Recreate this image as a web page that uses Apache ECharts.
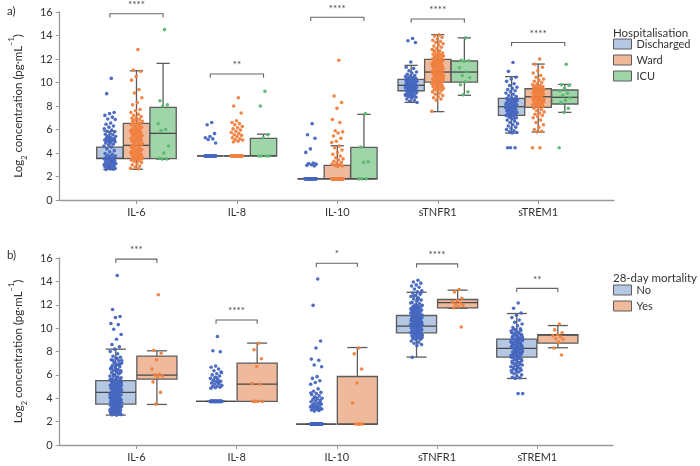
<!DOCTYPE html>
<html><head><meta charset="utf-8">
<script src="https://cdn.jsdelivr.net/npm/echarts@6/dist/echarts.min.js"></script>
<style>html,body{margin:0;padding:0;background:#fff}#c{width:700px;height:466px}</style>
</head><body><div id="c"></div>
<script>
// ---------- categories & labels ----------
const categories = ['IL-6', 'IL-8', 'IL-10', 'sTNFR1', 'sTREM1'];
const groupsA = ['Discharged', 'Ward', 'ICU'];
const groupsB = ['No', 'Yes'];
const titleA = 'Hospitalisation';
const titleB = '28-day mortality';

// ---------- box statistics [min, q1, median, q3, max] per category ----------
const statsA_Discharged = [[2.6, 3.52, 3.55, 4.5, 5.85], [3.75, 3.75, 3.75, 3.75, 3.75], [1.8, 1.8, 1.8, 1.8, 1.8], [8.31, 9.3, 9.76, 10.27, 11.46], [5.7, 7.2, 7.94, 8.65, 10.5]];
const statsA_Ward = [[2.62, 3.52, 4.65, 6.52, 11.0], [3.75, 3.75, 3.75, 3.75, 3.75], [1.8, 1.8, 1.8, 2.95, 4.62], [7.52, 10.04, 10.89, 11.97, 14.07], [5.79, 7.89, 8.79, 9.47, 11.57]];
const statsA_ICU = [[3.47, 3.52, 5.67, 7.89, 11.63], [3.75, 3.75, 3.75, 5.25, 5.6], [1.8, 1.8, 1.8, 4.48, 7.29], [8.91, 10.04, 10.89, 11.83, 13.8], [7.46, 8.17, 8.74, 9.36, 9.84]];
const statsB_No = [[2.56, 3.5, 4.5, 5.5, 8.2], [3.73, 3.73, 3.73, 3.73, 3.73], [1.79, 1.79, 1.79, 1.79, 1.79], [7.52, 9.6, 10.17, 11.08, 13.07], [5.69, 7.52, 8.26, 9.06, 11.25]];
const statsB_Yes = [[3.47, 5.64, 5.98, 7.6, 8.06], [3.73, 3.73, 5.21, 7.0, 8.72], [1.79, 1.79, 1.79, 5.86, 8.34], [11.7, 11.73, 12.19, 12.45, 13.25], [8.32, 8.72, 9.4, 9.45, 10.22]];

// ---------- significance brackets ----------
const sigA_y = [15.85, 10.72, 15.55, 15.4, 13.4];
const sigA_label = ['****', '**', '****', '****', '****'];
const sigB_y = [15.9, 10.7, 15.55, 15.5, 13.4];
const sigB_label = ['***', '****', '*', '****', '**'];

// ---------- individual observations (log2 pg/mL) ----------
// Panel a) Discharged
const a_IL6_Discharged = [10.35, 9.05, 7.45, 7.35, 7.2, 7.05, 6.9, 6.85, 6.55, 6.45, 6.3, 6.2, 6.05, 5.95, 5.85, 5.8, 5.7, 5.6, 5.55, 5.45, 5.4, 5.3, 5.25, 5.2, 5.15, 5.1, 5.05, 5.0, 4.95, 4.9, 4.85, 4.75, 4.7, 4.6, 4.5, 4.35, 4.2, 4.1, 3.95, 3.9, 3.8, 3.75, 3.7, 3.65, 3.6, 3.55, 3.5, 3.45, 3.4, 3.35, 3.3, 3.25, 3.2, 3.15, 3.1, 3.05, 3.0, 2.95, 2.9, 2.85, 2.8, 2.75, 2.7, 2.65, 2.6, 2.62, 2.78, 3.02, 3.28, 5.35, 5.12, 4.95];
const a_IL8_Discharged = [6.6, 6.4, 5.65, 5.4, 5.3, 5.2, 5.15, 4.85, 3.75, 3.75, 3.75, 3.75, 3.75, 3.75, 3.75, 3.75, 3.75, 3.75, 3.75, 3.75, 3.75, 3.75, 3.75, 3.75, 3.75, 3.75, 3.75, 3.75, 3.75, 3.75];
const a_IL10_Discharged = [6.5, 5.55, 5.25, 4.35, 4.05, 3.15, 3.1, 3.05, 3.0, 2.95, 2.9, 1.8, 1.8, 1.8, 1.8, 1.8, 1.8, 1.8, 1.8, 1.8, 1.8, 1.8, 1.8, 1.8, 1.8, 1.8, 1.8, 1.8, 1.8, 1.8, 1.8, 1.8, 1.8, 1.8, 1.8, 1.8];
const a_sTNFR1_Discharged = [13.75, 13.55, 13.4, 11.75, 11.3, 11.2, 11.0, 10.9, 10.8, 10.7, 10.6, 10.55, 10.5, 10.45, 10.4, 10.35, 10.3, 10.25, 10.2, 10.15, 10.1, 10.05, 10.0, 9.95, 9.9, 9.85, 9.8, 9.78, 9.75, 9.72, 9.7, 9.65, 9.6, 9.55, 9.5, 9.45, 9.4, 9.35, 9.3, 9.25, 9.2, 9.15, 9.1, 9.05, 9.0, 8.95, 8.9, 8.85, 8.8, 8.75, 8.7, 8.6, 8.5, 8.4, 8.3, 9.62, 9.68, 9.82, 9.88, 10.12, 9.42, 9.52, 9.58, 9.92, 10.02, 9.32, 9.12, 8.98, 8.82];
const a_sTREM1_Discharged = [11.7, 10.95, 10.45, 10.3, 10.1, 9.9, 9.75, 9.6, 9.5, 9.4, 9.3, 9.2, 9.1, 9.0, 8.9, 8.8, 8.7, 8.65, 8.6, 8.55, 8.5, 8.45, 8.4, 8.35, 8.3, 8.25, 8.2, 8.15, 8.1, 8.05, 8.0, 7.95, 7.9, 7.85, 7.8, 7.75, 7.7, 7.65, 7.6, 7.55, 7.5, 7.45, 7.4, 7.35, 7.3, 7.25, 7.2, 7.15, 7.1, 7.0, 6.9, 6.8, 6.7, 6.6, 6.5, 6.4, 6.3, 6.2, 6.1, 6.0, 5.9, 5.8, 5.75, 5.7, 4.45, 4.45, 4.45, 8.12, 7.88, 7.62, 8.38, 7.42, 8.62, 6.95, 7.05];
// Panel a) Ward
const a_IL6_Ward = [12.8, 11.05, 10.95, 10.5, 10.2, 9.4, 9.1, 8.7, 8.3, 8.1, 7.7, 7.6, 7.45, 7.3, 7.2, 7.1, 7.0, 6.95, 6.85, 6.8, 6.7, 6.6, 6.55, 6.5, 6.45, 6.4, 6.3, 6.25, 6.2, 6.1, 6.05, 6.0, 5.95, 5.9, 5.85, 5.8, 5.75, 5.7, 5.65, 5.6, 5.55, 5.5, 5.45, 5.4, 5.35, 5.3, 5.25, 5.2, 5.15, 5.1, 5.05, 5.0, 4.95, 4.9, 4.8, 4.75, 4.7, 4.65, 4.6, 4.5, 4.45, 4.4, 4.3, 4.25, 4.2, 4.15, 4.1, 4.05, 4.0, 3.95, 3.9, 3.85, 3.8, 3.75, 3.7, 3.65, 3.6, 3.55, 3.5, 3.45, 3.4, 3.35, 3.3, 3.2, 3.1, 3.0, 2.9, 2.8, 2.7, 2.65, 5.62, 5.48, 6.15, 4.55, 4.35, 3.62, 3.52, 5.82, 6.72];
const a_IL8_Ward = [8.7, 8.0, 7.4, 6.75, 6.6, 6.5, 6.4, 6.25, 6.15, 6.05, 5.95, 5.85, 5.75, 5.65, 5.55, 5.5, 5.4, 5.3, 5.2, 5.15, 5.1, 5.0, 4.95, 3.75, 3.75, 3.75, 3.75, 3.75, 3.75, 3.75, 3.75, 3.75, 3.75, 3.75, 3.75, 3.75, 3.75, 3.75, 3.75, 3.75, 3.75, 3.75, 3.75];
const a_IL10_Ward = [11.9, 8.85, 8.3, 7.8, 6.85, 6.6, 5.9, 5.8, 5.7, 5.45, 5.25, 5.0, 4.9, 4.6, 4.45, 4.25, 4.05, 3.9, 3.75, 3.6, 3.5, 3.4, 3.3, 3.2, 3.1, 3.05, 3.0, 2.95, 2.9, 2.85, 1.8, 1.8, 1.8, 1.8, 1.8, 1.8, 1.8, 1.8, 1.8, 1.8, 1.8, 1.8, 1.8, 1.8, 1.8, 1.8, 1.8, 1.8, 1.8, 1.8, 1.8, 1.8, 1.8, 1.8, 1.8, 1.8, 1.8, 1.8, 1.8, 1.8];
const a_sTNFR1_Ward = [14.05, 13.95, 13.85, 13.7, 13.6, 13.5, 13.4, 13.3, 13.2, 13.1, 13.0, 12.9, 12.8, 12.7, 12.6, 12.5, 12.45, 12.4, 12.35, 12.3, 12.25, 12.2, 12.15, 12.1, 12.05, 12.0, 11.95, 11.9, 11.85, 11.8, 11.75, 11.7, 11.65, 11.6, 11.55, 11.5, 11.45, 11.4, 11.35, 11.3, 11.25, 11.2, 11.15, 11.1, 11.05, 11.0, 10.95, 10.9, 10.85, 10.8, 10.75, 10.7, 10.65, 10.6, 10.55, 10.5, 10.45, 10.4, 10.35, 10.3, 10.25, 10.2, 10.15, 10.1, 10.05, 10.0, 9.95, 9.9, 9.85, 9.8, 9.75, 9.7, 9.65, 9.6, 9.55, 9.5, 9.45, 9.4, 9.35, 9.3, 9.2, 9.1, 9.0, 8.9, 8.8, 8.7, 8.6, 8.5, 7.55, 11.12, 10.92, 10.78, 10.62, 11.42, 11.62, 10.48, 10.32, 12.52, 12.72, 11.82, 10.12, 9.92, 10.72, 11.32];
const a_sTREM1_Ward = [12.0, 11.55, 11.3, 11.0, 10.8, 10.6, 10.45, 10.3, 10.2, 10.1, 10.0, 9.9, 9.8, 9.75, 9.7, 9.65, 9.6, 9.55, 9.5, 9.45, 9.4, 9.35, 9.3, 9.25, 9.2, 9.15, 9.1, 9.05, 9.0, 8.95, 8.9, 8.85, 8.8, 8.75, 8.7, 8.65, 8.6, 8.55, 8.5, 8.45, 8.4, 8.35, 8.3, 8.25, 8.2, 8.15, 8.1, 8.05, 8.0, 7.95, 7.9, 7.8, 7.7, 7.6, 7.5, 7.4, 7.3, 7.2, 7.1, 7.0, 6.8, 6.6, 6.4, 6.2, 6.0, 5.85, 5.8, 4.45, 4.45, 9.42, 9.22, 8.92, 8.72, 8.82, 9.12, 8.58, 8.42, 9.62, 8.18];
// Panel a) ICU
const a_IL6_ICU = [14.5, 8.45, 8.1, 8.0, 6.5, 6.0, 5.9, 4.6, 4.0, 3.55, 3.5, 3.5];
const a_IL8_ICU = [9.25, 8.0, 5.55, 5.3, 3.75, 3.75, 3.75, 3.75];
const a_IL10_ICU = [7.35, 4.5, 3.25, 3.2, 1.8, 1.8, 1.8];
const a_sTNFR1_ICU = [13.8, 11.9, 11.85, 11.8, 11.25, 10.9, 10.6, 10.4, 10.05, 9.8, 9.2, 8.95];
const a_sTREM1_ICU = [11.55, 9.8, 9.75, 9.5, 9.3, 9.1, 8.9, 8.7, 8.5, 8.3, 7.8, 7.45, 4.45];
// Panel b) No
const b_IL6_No = [14.5, 11.6, 11.0, 10.9, 10.4, 10.3, 9.9, 9.45, 9.05, 8.6, 8.4, 8.2, 8.0, 7.8, 7.6, 7.5, 7.4, 7.3, 7.2, 7.1, 7.0, 6.9, 6.8, 6.7, 6.6, 6.5, 6.45, 6.4, 6.35, 6.3, 6.2, 6.1, 6.0, 5.9, 5.8, 5.7, 5.6, 5.55, 5.5, 5.45, 5.4, 5.35, 5.3, 5.25, 5.2, 5.15, 5.1, 5.05, 5.0, 4.95, 4.9, 4.85, 4.8, 4.75, 4.7, 4.65, 4.6, 4.55, 4.5, 4.45, 4.4, 4.35, 4.3, 4.25, 4.2, 4.15, 4.1, 4.05, 4.0, 3.95, 3.9, 3.85, 3.8, 3.75, 3.7, 3.65, 3.6, 3.55, 3.5, 3.45, 3.4, 3.35, 3.3, 3.25, 3.2, 3.15, 3.1, 3.05, 3.0, 2.95, 2.9, 2.85, 2.8, 2.75, 2.7, 2.65, 2.6, 2.55, 2.58, 2.68, 2.72, 2.82, 2.88, 2.92, 3.02, 3.08, 3.12, 3.22, 3.28, 3.32, 3.42, 3.48, 3.52, 3.62, 3.68, 3.72, 3.82, 3.88, 3.92, 4.02, 4.12, 4.22, 4.32, 4.42, 4.52, 4.62, 4.72, 4.82, 4.92, 5.02, 5.12, 5.22, 5.32, 5.42, 5.52, 5.62, 5.82, 6.02, 6.22, 6.42, 6.62, 6.82, 7.02, 7.22, 7.42, 7.25, 6.95, 6.75, 6.55, 6.15, 5.95, 5.75, 5.65];
const b_IL8_No = [9.28, 8.06, 7.98, 6.75, 6.65, 6.5, 6.35, 6.2, 6.1, 6.0, 5.9, 5.8, 5.7, 5.6, 5.5, 5.45, 5.4, 5.3, 5.25, 5.2, 5.1, 5.05, 5.0, 4.95, 4.9, 4.85, 5.35, 5.55, 6.25, 5.75, 3.73, 3.73, 3.73, 3.73, 3.73, 3.73, 3.73, 3.73, 3.73, 3.73, 3.73, 3.73, 3.73, 3.73, 3.73, 3.73, 3.73, 3.73, 3.73, 3.73, 3.73, 3.73, 3.73, 3.73, 3.73, 3.73, 3.73, 3.73, 3.73, 3.73];
const b_IL10_No = [14.2, 11.95, 8.9, 8.3, 7.35, 7.25, 6.85, 6.7, 5.85, 5.7, 5.5, 5.35, 5.2, 4.8, 4.6, 4.5, 4.4, 4.3, 4.2, 4.1, 4.0, 3.95, 3.9, 3.8, 3.75, 3.7, 3.6, 3.55, 3.5, 3.45, 3.4, 3.35, 3.3, 3.25, 3.2, 3.15, 3.1, 3.05, 3.0, 2.95, 2.9, 3.08, 3.18, 3.28, 3.62, 4.05, 4.45, 3.02, 1.79, 1.79, 1.79, 1.79, 1.79, 1.79, 1.79, 1.79, 1.79, 1.79, 1.79, 1.79, 1.79, 1.79, 1.79, 1.79, 1.79, 1.79, 1.79, 1.79, 1.79, 1.79, 1.79, 1.79, 1.79, 1.79, 1.79, 1.79, 1.79, 1.79, 1.79, 1.79, 1.79, 1.79, 1.79, 1.79, 1.79, 1.79, 1.79, 1.79];
const b_sTNFR1_No = [14.1, 13.95, 13.85, 13.7, 13.6, 13.5, 13.35, 13.2, 13.1, 13.0, 12.9, 12.8, 12.7, 12.6, 12.5, 12.4, 12.3, 12.2, 12.1, 12.0, 11.95, 11.9, 11.85, 11.8, 11.75, 11.7, 11.65, 11.6, 11.55, 11.5, 11.45, 11.4, 11.35, 11.3, 11.25, 11.2, 11.15, 11.1, 11.05, 11.0, 10.95, 10.9, 10.85, 10.8, 10.75, 10.7, 10.65, 10.6, 10.55, 10.5, 10.45, 10.4, 10.35, 10.3, 10.25, 10.2, 10.15, 10.1, 10.05, 10.0, 9.95, 9.9, 9.85, 9.8, 9.75, 9.7, 9.65, 9.6, 9.55, 9.5, 9.45, 9.4, 9.35, 9.3, 9.25, 9.2, 9.15, 9.1, 9.05, 9.0, 8.9, 8.8, 8.7, 8.6, 8.5, 7.5, 10.12, 10.22, 10.32, 10.42, 10.52, 10.62, 10.72, 10.82, 10.92, 11.02, 11.12, 11.22, 11.32, 11.42, 11.52, 11.62, 11.72, 11.82, 9.92, 9.82, 9.72, 9.62, 9.52, 9.42, 9.32, 9.22, 9.12, 10.02, 10.18, 10.28, 10.38, 10.48, 10.58, 10.68, 10.78, 10.88, 12.15, 12.45, 12.75, 13.05];
const b_sTREM1_No = [12.15, 11.7, 11.3, 11.1, 10.9, 10.7, 10.5, 10.35, 10.2, 10.05, 9.95, 9.85, 9.75, 9.65, 9.55, 9.45, 9.35, 9.25, 9.15, 9.05, 8.95, 8.85, 8.75, 8.65, 8.55, 8.45, 8.35, 8.25, 8.15, 8.05, 7.95, 7.85, 7.75, 7.65, 7.55, 7.45, 7.35, 7.25, 7.15, 7.05, 6.95, 6.85, 6.75, 6.65, 6.55, 6.45, 6.35, 6.25, 6.1, 6.0, 5.9, 5.8, 5.75, 5.7, 4.4, 4.4, 9.9, 9.8, 9.7, 9.6, 9.5, 9.4, 9.3, 9.2, 9.1, 9.0, 8.9, 8.8, 8.7, 8.6, 8.5, 8.4, 8.3, 8.2, 8.1, 8.0, 7.9, 7.8, 7.7, 7.6, 7.5, 7.4, 7.3, 7.2, 7.1, 7.0, 6.9, 6.8, 6.7, 6.6, 6.5, 6.4, 6.3, 6.2, 8.22, 8.32, 8.42, 8.52, 8.62, 8.72, 8.82, 8.92, 9.02, 7.92, 7.82, 7.72, 7.62, 8.12, 8.02, 9.12, 9.22, 9.32];
// Panel b) Yes
const b_IL6_Yes = [12.85, 8.1, 7.85, 7.3, 6.5, 6.05, 6.0, 5.9, 5.85, 5.4, 4.5, 3.5];
const b_IL8_Yes = [8.7, 8.15, 7.38, 6.72, 5.25, 5.2, 3.73, 3.73, 3.73, 3.73];
const b_IL10_Yes = [8.3, 7.8, 6.5, 5.3, 3.6, 1.79, 1.79, 1.79, 1.79];
const b_sTNFR1_Yes = [13.3, 13.1, 12.55, 12.35, 12.25, 12.15, 12.05, 11.95, 11.85, 11.75, 10.1];
const b_sTREM1_Yes = [10.35, 9.85, 9.6, 9.45, 9.35, 9.25, 9.1, 9.05, 8.8, 8.3, 7.7];

// ---------- styling ----------
const FONT = 'Lato';
const fills = { Discharged: '#b5c8e3', Ward: '#efb99b', ICU: '#9fd5a9', No: '#b5c8e3', Yes: '#efb99b' };
const dots = { Discharged: '#4666bf', Ward: '#f07f3e', ICU: '#5cb870', No: '#4666bf', Yes: '#f07f3e' };
const offsA = [-0.265, 0, 0.265], widthA = 0.262;
const offsB = [-0.205, 0.205], widthB = 0.4;
const JIT = 0.06;
const XMIN = -0.765, XMAX = 4.755;

const obsA = {
  Discharged: [a_IL6_Discharged, a_IL8_Discharged, a_IL10_Discharged, a_sTNFR1_Discharged, a_sTREM1_Discharged],
  Ward: [a_IL6_Ward, a_IL8_Ward, a_IL10_Ward, a_sTNFR1_Ward, a_sTREM1_Ward],
  ICU: [a_IL6_ICU, a_IL8_ICU, a_IL10_ICU, a_sTNFR1_ICU, a_sTREM1_ICU]
};
const obsB = {
  No: [b_IL6_No, b_IL8_No, b_IL10_No, b_sTNFR1_No, b_sTREM1_No],
  Yes: [b_IL6_Yes, b_IL8_Yes, b_IL10_Yes, b_sTNFR1_Yes, b_sTREM1_Yes]
};
const statsA = { Discharged: statsA_Discharged, Ward: statsA_Ward, ICU: statsA_ICU };
const statsB = { No: statsB_No, Yes: statsB_Yes };

function boxRenderer(offset, width, fill) {
  return function (params, api) {
    const x = api.value(0) + offset;
    const pt = v => api.coord([x, v]);
    const c = pt(api.value(3));
    const xc = c[0];
    const w = api.size([width, 0])[0];
    const yMin = pt(api.value(1))[1], yQ1 = pt(api.value(2))[1], yMed = c[1];
    const yQ3 = pt(api.value(4))[1], yMax = pt(api.value(5))[1];
    const ls = { stroke: '#5c5c5c', lineWidth: 1.3 };
    return { type: 'group', children: [
      { type: 'line', shape: { x1: xc, y1: yQ3, x2: xc, y2: yMax }, style: ls },
      { type: 'line', shape: { x1: xc, y1: yQ1, x2: xc, y2: yMin }, style: ls },
      { type: 'line', shape: { x1: xc - w / 4, y1: yMax, x2: xc + w / 4, y2: yMax }, style: ls },
      { type: 'line', shape: { x1: xc - w / 4, y1: yMin, x2: xc + w / 4, y2: yMin }, style: ls },
      { type: 'rect', shape: { x: xc - w / 2, y: yQ3, width: w, height: yQ1 - yQ3 }, style: { fill: fill, stroke: '#5c5c5c', lineWidth: 1.3 } },
      { type: 'line', shape: { x1: xc - w / 2, y1: yMed, x2: xc + w / 2, y2: yMed }, style: { stroke: '#474747', lineWidth: 1.3 } }
    ] };
  };
}

function bracketRenderer(dl, dr) {
  return function (params, api) {
    const ci = api.value(0), y = api.value(1);
    const p1 = api.coord([ci + dl, y]), p2 = api.coord([ci + dr, y]);
    const p1b = api.coord([ci + dl, y - 0.32]), p2b = api.coord([ci + dr, y - 0.32]);
    return { type: 'group', children: [
      { type: 'polyline', shape: { points: [p1b, p1, p2, p2b] }, style: { stroke: '#666', lineWidth: 1.1, fill: null } },
      { type: 'text', x: (p1[0] + p2[0]) / 2, y: p1[1] - 4, style: { text: api.value(2), fill: '#444', font: '10px ' + FONT, align: 'center', verticalAlign: 'bottom' } }
    ] };
  };
}

function jitter(perCat, offset) {
  const out = [];
  perCat.forEach((vals, ci) => vals.forEach((v, i) => {
    const j = (((i + 1) * 0.6180339887) % 1) * 2 - 1;
    out.push([ci + offset + j * JIT, v]);
  }));
  return out;
}

const series = [];
function addPanel(idx, groups, stats, obs, offs, width, sigY, sigLabel) {
  groups.forEach((g, k) => {
    series.push({
      name: g, type: 'custom', xAxisIndex: idx, yAxisIndex: idx, z: 2,
      itemStyle: { color: fills[g], borderColor: '#5c5c5c' },
      renderItem: boxRenderer(offs[k], width, fills[g]),
      encode: { x: 0, y: [1, 2, 3, 4, 5] },
      data: stats[g].map((s, ci) => [ci].concat(s))
    });
  });
  groups.forEach((g, k) => {
    series.push({
      name: g + ' obs', type: 'scatter', xAxisIndex: idx, yAxisIndex: idx, z: 3,
      symbolSize: 3.6, itemStyle: { color: dots[g], opacity: 0.95 },
      data: jitter(obs[g], offs[k]), silent: true
    });
  });
  series.push({
    name: 'sig' + idx, type: 'custom', xAxisIndex: idx, yAxisIndex: idx, z: 4,
    renderItem: bracketRenderer(offs[0], offs[offs.length - 1]),
    encode: { x: 0, y: 1 },
    data: sigY.map((y, ci) => [ci, y, sigLabel[ci]])
  });
}
addPanel(0, groupsA, statsA, obsA, offsA, widthA, sigA_y, sigA_label);
addPanel(1, groupsB, statsB, obsB, offsB, widthB, sigB_y, sigB_label);

function xAxisCfg(idx) {
  return {
    type: 'value', gridIndex: idx, min: XMIN, max: XMAX,
    splitLine: { show: false },
    axisLine: { show: true, onZero: false, lineStyle: { color: '#9a9a9a', width: 1.3 } },
    axisTick: { show: true, customValues: [0, 1, 2, 3, 4], length: 4, lineStyle: { color: '#9a9a9a' } },
    axisLabel: { customValues: [0, 1, 2, 3, 4], formatter: v => categories[Math.round(v)], color: '#333', fontSize: 11, fontFamily: FONT, margin: 7 }
  };
}
const yName = '{t|Log}{s|2}{t| concentration (pg·mL}{p|−1}{t|)}';
function yAxisCfg(idx) {
  return {
    type: 'value', gridIndex: idx, min: 0, max: 16, interval: 2,
    splitLine: { show: false },
    axisLine: { show: true, onZero: false, lineStyle: { color: '#9a9a9a', width: 1.3 } },
    axisTick: { show: true, length: 4, lineStyle: { color: '#9a9a9a' } },
    axisLabel: { color: '#333', fontSize: 11, fontFamily: FONT, margin: 7 },
    name: yName, nameLocation: 'middle', nameGap: 27, nameRotate: 90,
    nameTextStyle: {
      color: '#333', fontFamily: FONT,
      rich: {
        t: { fontSize: 11.5, fontFamily: FONT, color: '#333', lineHeight: 16 },
        s: { fontSize: 7.5, fontFamily: FONT, color: '#333', lineHeight: 8, verticalAlign: 'bottom', padding: [0, 0, -3, 0] },
        p: { fontSize: 7.5, fontFamily: FONT, color: '#333', lineHeight: 8, verticalAlign: 'top', padding: [-2, 0, 0, 0] }
      }
    }
  };
}

function legendCfg(groups, top) {
  return {
    orient: 'vertical', left: 613, top: top, padding: 0, itemWidth: 18, itemHeight: 10, itemGap: 4,
    icon: 'rect', selectedMode: false,
    textStyle: { color: '#333', fontSize: 11, fontFamily: FONT, lineHeight: 12 },
    data: groups.map(g => ({ name: g, itemStyle: { color: fills[g], borderColor: '#5c5c5c', borderWidth: 1 } }))
  };
}

const chart = echarts.init(document.getElementById('c'), null, { renderer: 'canvas' });
chart.setOption({
  animation: false,
  backgroundColor: '#fff',
  textStyle: { fontFamily: FONT },
  title: [
    { text: 'a)', left: 2, top: 0, textStyle: { fontSize: 11.5, fontWeight: 'normal', color: '#333', fontFamily: FONT } },
    { text: 'b)', left: 2, top: 244, textStyle: { fontSize: 11.5, fontWeight: 'normal', color: '#333', fontFamily: FONT } },
    { text: titleA, left: 608, top: 22, textStyle: { fontSize: 11.5, fontWeight: 'normal', color: '#333', fontFamily: FONT } },
    { text: titleB, left: 608, top: 267, textStyle: { fontSize: 11.5, fontWeight: 'normal', color: '#333', fontFamily: FONT } }
  ],
  legend: [legendCfg(groupsA, 38), legendCfg(groupsB, 284)],
  grid: [
    { left: 45, top: 12, width: 569, height: 188 },
    { left: 45, top: 258, width: 568, height: 187 }
  ],
  xAxis: [xAxisCfg(0), xAxisCfg(1)],
  yAxis: [yAxisCfg(0), yAxisCfg(1)],
  series: series
});
</script>
</body></html>
